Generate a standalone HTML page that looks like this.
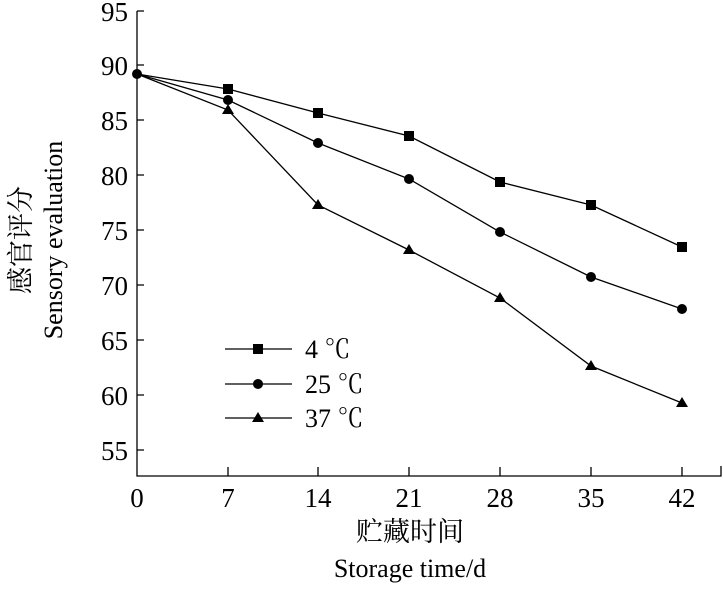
<!DOCTYPE html><html><head><meta charset="utf-8"><style>body{margin:0;background:#fff}</style></head><body>
<svg width="723" height="585" xmlns="http://www.w3.org/2000/svg" font-family="Liberation Serif, Noto Serif CJK SC, serif">
<g stroke="#000" stroke-width="1.3" fill="none">
<path d="M137 11V476H721V466"/>
<path d="M137 11h7M137 65h7M137 120h7M137 175h7M137 230h7M137 285h7M137 340h7M137 395h7M137 450h7"/>
<path d="M228 476v-9M318 476v-9M409 476v-9M500 476v-9M591 476v-9M682 476v-9"/>
<polyline points="137,74 228,89 318,113 409,136 500,182 591,205 682,247"/>
<polyline points="137,74 228,100 318,143 409,179 500,232 591,277 682,309"/>
<polyline points="137,74 228,110 318,205 409,250 500,298 591,366 682,403"/>
<path d="M225 349h67M225 384h67M225 418h67"/>
</g>
<g fill="#000">
<circle cx="137" cy="74" r="5"/>
<rect x="223" y="84" width="10" height="10"/><rect x="313" y="108" width="10" height="10"/><rect x="404" y="131" width="10" height="10"/><rect x="495" y="177" width="10" height="10"/><rect x="586" y="200" width="10" height="10"/><rect x="677" y="242" width="10" height="10"/><rect x="253" y="344" width="10" height="10"/>
<circle cx="228" cy="100" r="5"/><circle cx="318" cy="143" r="5"/><circle cx="409" cy="179" r="5"/><circle cx="500" cy="232" r="5"/><circle cx="591" cy="277" r="5"/><circle cx="682" cy="309" r="5"/><circle cx="258" cy="384" r="5"/>
<path d="M228 104l-6 10h12zM318 199l-6 10h12zM409 244l-6 10h12zM500 292l-6 10h12zM591 360l-6 10h12zM682 397l-6 10h12zM258 412l-6 10h12z"/>
</g>
<g font-size="27" text-anchor="end">
<text x="128" y="21">95</text><text x="128" y="75">90</text><text x="128" y="130">85</text><text x="128" y="185">80</text><text x="128" y="240">75</text><text x="128" y="295">70</text><text x="128" y="350">65</text><text x="128" y="405">60</text><text x="128" y="460">55</text>
</g>
<g font-size="27" text-anchor="middle">
<text x="137" y="507">0</text><text x="228" y="507">7</text><text x="318" y="507">14</text><text x="409" y="507">21</text><text x="500" y="507">28</text><text x="591" y="507">35</text><text x="682" y="507">42</text>
<text x="410" y="541" font-size="27">贮藏时间</text>
<text x="410" y="577" font-size="26">Storage time/d</text>
</g>
<g font-size="26">
<text x="305" y="358">4 ℃</text><text x="305" y="393">25 ℃</text><text x="305" y="427">37 ℃</text>
</g>
<text transform="translate(30,240) rotate(-90)" text-anchor="middle" font-size="27">感官评分</text>
<text transform="translate(62,240) rotate(-90)" text-anchor="middle" font-size="26">Sensory evaluation</text>
</svg>
</body></html>
